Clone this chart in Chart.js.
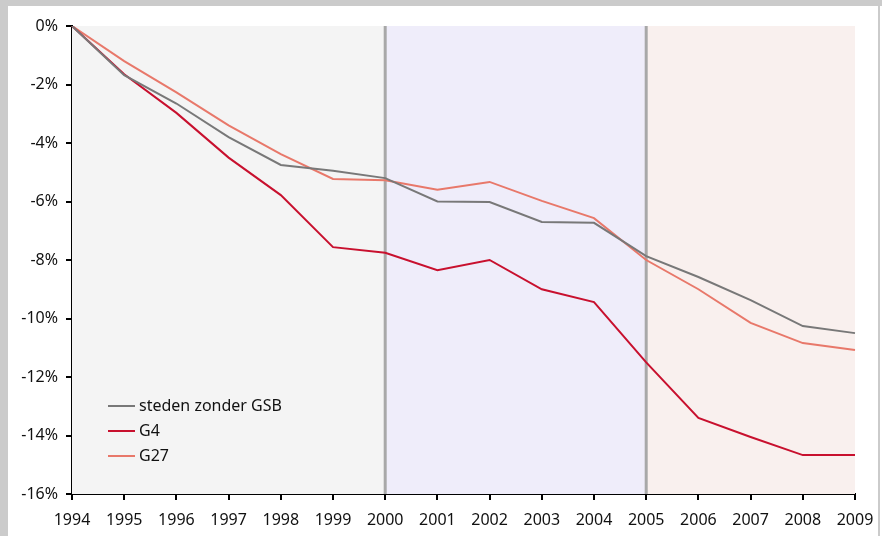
<!DOCTYPE html>
<html lang="nl">
<head>
    <meta charset="UTF-8">
    <title>Bevolkingsontwikkeling 1994-2009</title>
    <script src="https://cdn.jsdelivr.net/npm/chart.js"></script>
    <style>
        html, body { margin: 0; padding: 0; background: #fff; }
        #wrap { width: 882px; height: 536px; }
    </style>
</head>
<body>
    <div id="wrap"><canvas id="chartCanvas" width="882" height="536"></canvas></div>

    <script>
        // data (% change vs 1994)
        const years = ['1994','1995','1996','1997','1998','1999','2000','2001','2002','2003','2004','2005','2006','2007','2008','2009'];
        const stedenZonderGSB = [0, -1.68, -2.65, -3.8, -4.75, -4.95, -5.2, -6.0, -6.02, -6.7, -6.73, -7.87, -8.58, -9.37, -10.26, -10.5];
        const g4 = [0, -1.65, -2.97, -4.5, -5.78, -7.56, -7.75, -8.35, -8.0, -9.0, -9.44, -11.5, -13.4, -14.05, -14.67, -14.67];
        const g27 = [0, -1.2, -2.27, -3.4, -4.38, -5.23, -5.27, -5.6, -5.33, -5.98, -6.57, -8.0, -9.0, -10.15, -10.84, -11.08];

        // shaded periods and separator years
        const periods = [
            { from: '1994', to: '2000', color: '#f4f4f4' },
            { from: '2000', to: '2005', color: '#efedfa' },
            { from: '2005', to: '2009', color: '#f9f0ee' }
        ];
        const dividers = ['2000', '2005'];

        const FONT = '"Noto Sans", "Open Sans", sans-serif';

        const framePlugin = {
            id: 'frame',
            beforeDraw(chart) {
                const ctx = chart.ctx;
                ctx.save();
                ctx.fillStyle = '#cbcbcb';
                ctx.fillRect(0, 0, chart.width, chart.height);
                ctx.fillStyle = '#fff';
                ctx.fillRect(8, 6, 870, chart.height - 6);
                ctx.fillRect(880, 6, 2, chart.height - 6);
                ctx.restore();
            }
        };

        const periodPlugin = {
            id: 'periods',
            beforeDatasetsDraw(chart) {
                const ctx = chart.ctx;
                const x = chart.scales.x;
                const area = chart.chartArea;
                ctx.save();
                periods.forEach(p => {
                    const x0 = x.getPixelForValue(years.indexOf(p.from));
                    const x1 = x.getPixelForValue(years.indexOf(p.to));
                    ctx.fillStyle = p.color;
                    ctx.fillRect(x0, area.top, x1 - x0, area.bottom - area.top);
                });
                ctx.strokeStyle = '#a8a8a8';
                ctx.lineWidth = 3;
                dividers.forEach(d => {
                    const px = x.getPixelForValue(years.indexOf(d));
                    ctx.beginPath();
                    ctx.moveTo(px, area.top);
                    ctx.lineTo(px, area.bottom);
                    ctx.stroke();
                });
                ctx.restore();
            }
        };

        const legendPlugin = {
            id: 'innerLegend',
            afterDatasetsDraw(chart) {
                const ctx = chart.ctx;
                ctx.save();
                ctx.font = '16px ' + FONT;
                ctx.textBaseline = 'middle';
                chart.data.datasets.forEach((ds, i) => {
                    const y = 406 + i * 25;
                    ctx.strokeStyle = ds.borderColor;
                    ctx.lineWidth = 2;
                    ctx.beginPath();
                    ctx.moveTo(108, y);
                    ctx.lineTo(135, y);
                    ctx.stroke();
                    ctx.fillStyle = '#111';
                    ctx.fillText(ds.label, 139, y);
                });
                ctx.restore();
            }
        };

        const ctx = document.getElementById('chartCanvas').getContext('2d');
        new Chart(ctx, {
            type: 'line',
            data: {
                labels: years,
                datasets: [
                    { label: 'steden zonder GSB', data: stedenZonderGSB, borderColor: '#787878' },
                    { label: 'G4', data: g4, borderColor: '#c8102e' },
                    { label: 'G27', data: g27, borderColor: '#e8786a' }
                ].map(d => Object.assign(d, { borderWidth: 2, pointRadius: 0, tension: 0, fill: false }))
            },
            options: {
                responsive: false,
                animation: false,
                layout: { padding: { left: 0, right: 27, top: 26, bottom: 0 } },
                plugins: {
                    legend: { display: false },
                    tooltip: { enabled: false }
                },
                scales: {
                    x: {
                        offset: false,
                        grid: { drawOnChartArea: false, drawTicks: true, tickLength: 6, color: '#000', lineWidth: 2 },
                        border: { color: '#000', width: 2 },
                        ticks: { color: '#111', font: { family: FONT, size: 16 }, padding: 11, maxRotation: 0, autoSkip: false },
                        afterFit(scale) {
                            scale.height = 42;
                            scale.paddingLeft = 0;
                            scale.paddingRight = 0;
                        }
                    },
                    y: {
                        min: -16,
                        max: 0,
                        grid: { drawOnChartArea: false, drawTicks: true, tickLength: 6, color: '#000', lineWidth: 2 },
                        border: { color: '#000', width: 2 },
                        ticks: {
                            stepSize: 2,
                            color: '#111',
                            font: { family: FONT, size: 16 },
                            padding: 8,
                            callback: v => v + '%'
                        },
                        afterFit(scale) { scale.width = 72; }
                    }
                }
            },
            plugins: [framePlugin, periodPlugin, legendPlugin]
        });
    </script>
</body>
</html>
